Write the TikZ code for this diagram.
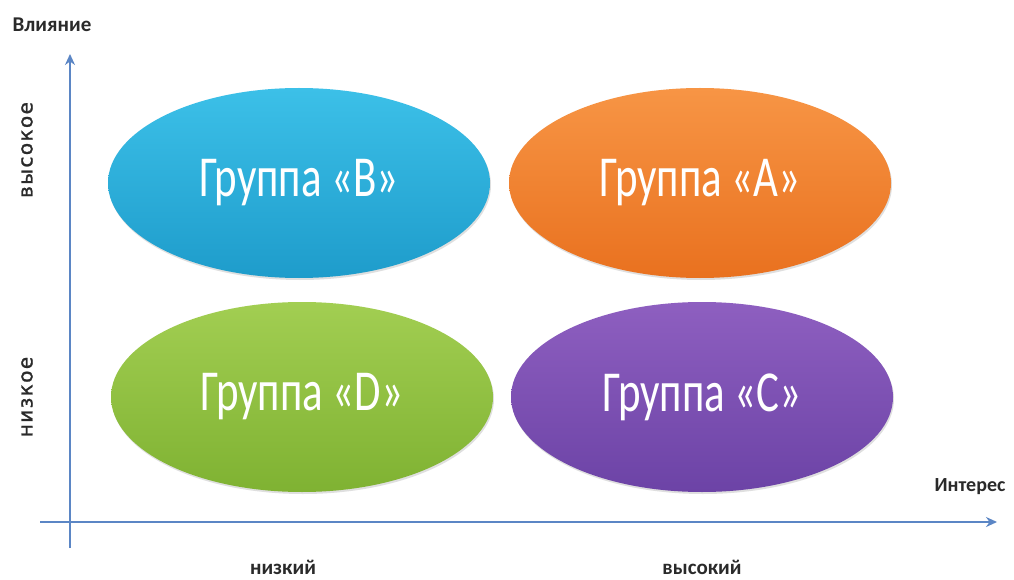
\documentclass[tikz,border=0pt]{standalone}
\usepackage{fontspec}
\setmainfont{Carlito}
\newfontfamily\grpfont[FakeStretch=0.74]{Carlito}
\newfontfamily\sidefont[LetterSpace=7,FakeBold=1.2]{DejaVu Sans}
\usetikzlibrary{shapes.geometric,arrows.meta,shadows}
\definecolor{axisblue}{HTML}{5B86C5}
\definecolor{bTop}{HTML}{3CC0E8}
\definecolor{bBot}{HTML}{1E9CCB}
\definecolor{aTop}{HTML}{F79545}
\definecolor{aBot}{HTML}{E9711F}
\definecolor{dTop}{HTML}{A2CE52}
\definecolor{dBot}{HTML}{7FB232}
\definecolor{cTop}{HTML}{8E5FC0}
\definecolor{cBot}{HTML}{6C43A6}
\definecolor{txt}{HTML}{2A2A2A}
\tikzset{
  grp/.style={ellipse, minimum width=382pt, minimum height=190pt, inner sep=0pt,
    text=white, font=\grpfont\fontsize{58}{62}\selectfont,
    drop shadow={shadow xshift=1pt, shadow yshift=-2pt, opacity=0.25}},
  axis/.style={draw=axisblue, line width=2pt, -{Stealth[length=11pt,width=10pt]}},
  lbl/.style={text=txt, font=\fontsize{21}{23}\selectfont\bfseries},
  side/.style={text=txt, rotate=90, font=\sidefont\fontsize{20}{22}\selectfont},
}
\begin{document}
\begin{tikzpicture}[x=1pt,y=-1pt]
\useasboundingbox (0,0) rectangle (1014,580);
\fill[white] (0,0) rectangle (1014,580);
\coordinate (ybot) at (70,548);
\coordinate (ytop) at (70,54);
\coordinate (xleft) at (40,522);
\coordinate (xright) at (997,522);
\draw[axis] (ybot) -- (ytop);
\draw[axis] (xleft) -- (xright);
\node[lbl] (vl) at (52,25) {Влияние};
\node[lbl, font=\fontsize{20}{22}\selectfont\bfseries] (int) at (970,487) {Интерес};
\node[lbl] (lowx) at (283,567) {низкий};
\node[lbl] (highx) at (702,567) {высокий};
\node[side] (highy) at (27,150) {высокое};
\node[side] (lowy) at (27,397) {низкое};
\node[grp, top color=bTop, bottom color=bBot] (B) at (299,183) {Группа «B»};
\node[grp, top color=aTop, bottom color=aBot] (A) at (700,183) {Группа «A»};
\node[grp, top color=dTop, bottom color=dBot] (D) at (302,397) {Группа «D»};
\node[grp, top color=cTop, bottom color=cBot] (C) at (702,397) {Группа «C»};
\end{tikzpicture}
\end{document}
